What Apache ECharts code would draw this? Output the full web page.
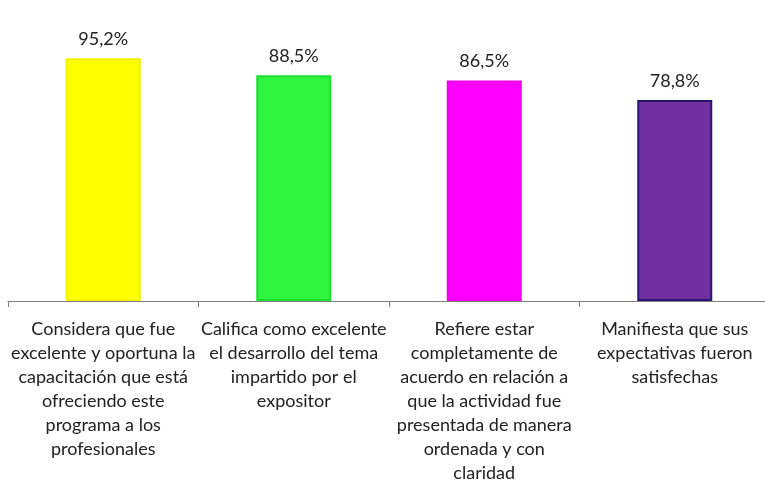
<!DOCTYPE html>
<html><head><meta charset="utf-8">
<script src="https://cdn.jsdelivr.net/npm/echarts@6/dist/echarts.min.js"></script>
<style>html,body{margin:0;padding:0;background:#fff;overflow:hidden;width:765px;height:485px}#c{width:780px;height:485px}</style>
</head><body><div id="c"></div>
<script>
var categories = [
  "Considera que fue\nexcelente y oportuna la\ncapacitación que está\nofreciendo este\nprograma a los\nprofesionales",
  "Califica como excelente\nel desarrollo del tema\nimpartido por el\nexpositor",
  "Refiere estar\ncompletamente de\nacuerdo en relación a\nque la actividad fue\npresentada de manera\nordenada y con\nclaridad",
  "Manifiesta que sus\nexpectativas fueron\nsatisfechas"
];
var values = [95.2, 88.5, 86.5, 78.8];
var labels = ["95,2%", "88,5%", "86,5%", "78,8%"];
var fills = ["#FFFF00", "#2EF540", "#FF00FF", "#7030A0"];
var borders = ["#F2F200", "#1FE030", "#F000F0", "#2A1470"];

var chart = echarts.init(document.getElementById('c'));
chart.setOption({
  animation: false,
  grid: {left: 8, top: 46, width: 762, height: 260, containLabel: false},
  xAxis: {
    type: 'category',
    data: categories,
    axisLine: {lineStyle: {color: '#7f7f7f', width: 1}},
    axisTick: {show: true, length: 6, lineStyle: {color: '#7f7f7f'}},
    axisLabel: {interval: 0, margin: 16, color: '#222222', fontFamily: 'Lato', fontSize: 18, lineHeight: 24}
  },
  yAxis: {type: 'value', min: 0, max: 100, show: false, splitLine: {show: false}},
  series: [{
    type: 'bar',
    barWidth: 75,
    data: values.map(function (v, i) {
      return {value: v, itemStyle: {color: fills[i], borderColor: borders[i], borderWidth: 2}};
    }),
    label: {
      show: true, position: 'top', distance: 10,
      color: '#222222', fontFamily: 'Lato', fontSize: 18,
      formatter: function (p) { return labels[p.dataIndex]; }
    }
  }]
});
</script></body></html>
